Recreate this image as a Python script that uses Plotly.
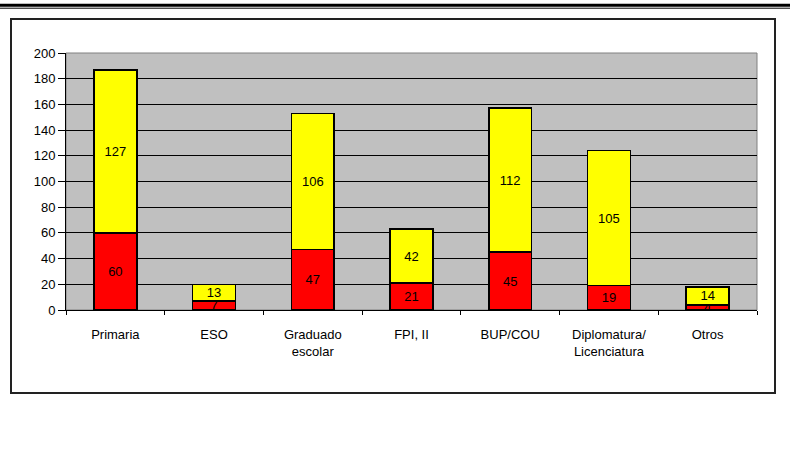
import plotly.graph_objects as go

categories = ["Primaria", "ESO", "Graduado<br>escolar", "FPI, II", "BUP/COU",
              "Diplomatura/<br>Licenciatura", "Otros"]
red_values = [60, 7, 47, 21, 45, 19, 4]
yellow_values = [127, 13, 106, 42, 112, 105, 14]
y_ticks = list(range(0, 201, 20))

W, H = 790, 457
L, R, T, B = 66, 757, 53, 310
pw, ph = R - L, B - T


def px(x):
    return (x - L) / pw


def py(y):
    return (B - y) / ph


font = dict(family="Liberation Sans, Arial, sans-serif", size=13, color="black")

fig = go.Figure()
for vals, col in [(red_values, "#FF0000"), (yellow_values, "#FFFF00")]:
    fig.add_trace(go.Bar(
        x=categories, y=vals, text=[str(v) for v in vals],
        textposition="inside", insidetextanchor="middle", constraintext="none",
        textfont=font, textangle=0,
        marker=dict(color=col, line=dict(color="black", width=1.6)),
        hoverinfo="skip",
    ))

fig.update_layout(
    width=W, height=H,
    margin=dict(l=L, r=W - R, t=T, b=H - B, pad=0),
    barmode="stack", bargap=0.565,
    showlegend=False,
    paper_bgcolor="white", plot_bgcolor="#C0C0C0",
    font=font,
    xaxis=dict(
        type="category", showgrid=False, showline=True, linecolor="black", linewidth=1,
        ticks="outside", tickson="boundaries", ticklen=4, tickcolor="black",
        ticklabelstandoff=12, tickfont=font, zeroline=False,
    ),
    yaxis=dict(
        range=[0, 200], tickvals=y_ticks, showgrid=True, gridcolor="black", gridwidth=1,
        showline=True, linecolor="black", linewidth=1, ticks="outside", ticklen=7,
        tickcolor="black", tickfont=font, zeroline=False,
    ),
    shapes=[
        dict(type="rect", xref="paper", yref="paper", x0=px(11), x1=px(775),
             y0=py(393), y1=py(19), line=dict(color="#222222", width=2),
             layer="below"),
        dict(type="line", xref="paper", yref="paper", x0=px(0), x1=px(790),
             y0=py(5.3), y1=py(5.3), line=dict(color="black", width=3)),
        dict(type="line", xref="paper", yref="paper", x0=px(0), x1=px(790),
             y0=py(8.2), y1=py(8.2), line=dict(color="black", width=1)),
        dict(type="rect", xref="paper", yref="paper", x0=0, x1=1, y0=0, y1=1,
             line=dict(color="#808080", width=1), layer="below"),
    ],
)

fig.write_html(
    "out.html",
    config={"displayModeBar": False, "staticPlot": True},
    post_script="document.body.style.margin='0';document.body.style.overflow='hidden';",
)
